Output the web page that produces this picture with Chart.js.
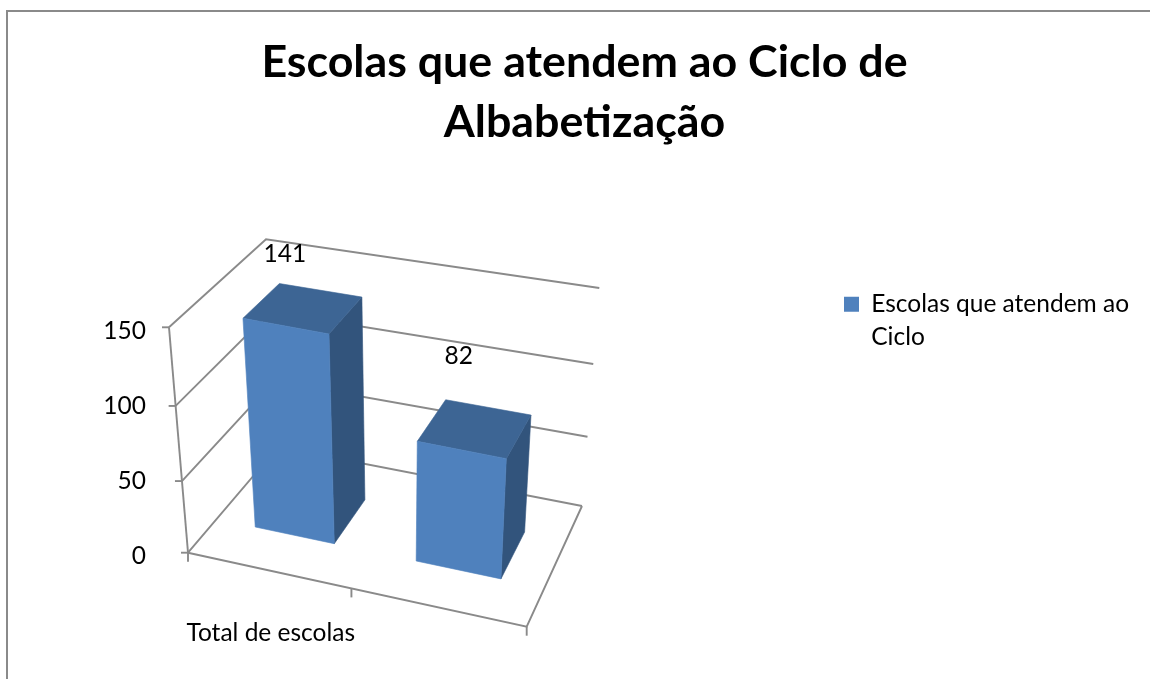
<!DOCTYPE html>
<html>
<head>
<meta charset="utf-8">
<style>html,body{margin:0;padding:0;background:#fff;overflow:hidden}canvas{display:block}</style>
<script src="https://cdn.jsdelivr.net/npm/chart.js@4"></script>
</head>
<body>
<canvas id="c" width="1150" height="679"></canvas>
<script>
const chartTitle = ['Escolas que atendem ao Ciclo de', 'Albabetização'];
const categories = ['Total de escolas', ''];
const seriesName = ['Escolas que atendem ao', 'Ciclo'];
const seriesValues = [141, 82];
const yTicks = [0, 50, 100, 150];

const FONT = 'Lato';
const INK = '#000000';
const LINE = '#8a8a8a';
const FRONT = '#4F81BD', TOP = '#3D6594', SIDE = '#32547C';

// Frame of the 3D box: [bottom, top] corner pairs, front-left, front-right, back-right, back-left.
const frame = {
  fl: [[188, 552.7], [169, 327.3]],
  fr: [[526.7, 626.7], [539.5, 399.7]],
  br: [[582, 506], [599.3, 288]],
  bl: [[278, 447], [266, 239.3]]
};
const DEPTH_FRONT = 0.32, DEPTH_BACK = 0.715;
const lerp = (a, b, t) => a + (b - a) * t;
const lerp2 = (p, q, t) => [lerp(p[0], q[0], t), lerp(p[1], q[1], t)];
const warpU = u => u - 0.07 * u * (1 - u);
const warpV = v => v - 0.07 * v * (1 - v);
function project(u, v, d) {
  const U = warpU(u), V = warpV(v);
  const fl = lerp2(frame.fl[0], frame.fl[1], V), fr = lerp2(frame.fr[0], frame.fr[1], V);
  const bl = lerp2(frame.bl[0], frame.bl[1], V), br = lerp2(frame.br[0], frame.br[1], V);
  const p = lerp2(lerp2(fl, fr, U), lerp2(bl, br, U), d);
  p[1] -= 18 * d * (1 - d) * (1 - d) * Math.sqrt(V);
  return p;
}
function poly(ctx, pts, fill) {
  ctx.beginPath();
  pts.forEach((p, i) => i ? ctx.lineTo(p[0], p[1]) : ctx.moveTo(p[0], p[1]));
  ctx.closePath();
  ctx.fillStyle = fill;
  ctx.strokeStyle = fill;
  ctx.lineWidth = 0.6;
  ctx.fill();
  ctx.stroke();
}
function seg(ctx, pts) {
  ctx.beginPath();
  pts.forEach((p, i) => i ? ctx.lineTo(p[0], p[1]) : ctx.moveTo(p[0], p[1]));
  ctx.stroke();
}
const labelShift = [[-18, -54], [-16, -72]];

const box3d = {
  id: 'box3d',
  afterLayout(chart) {
    chart.titleBlock.left = 0;
    chart.titleBlock.right = 1169;
    const lg = chart.legend;
    lg.left = 837; lg.right = 1150;
    lg.top = 285; lg.bottom = 380;
  },
  beforeDraw(chart) {
    const ctx = chart.ctx;
    ctx.save();
    ctx.fillStyle = '#fff';
    ctx.fillRect(0, 0, chart.width, chart.height);
    ctx.strokeStyle = LINE;
    ctx.lineWidth = 2;
    seg(ctx, [[7, chart.height], [7, 11], [chart.width, 11]]);
    ctx.restore();
  },
  beforeDatasetsDraw(chart) {
    const ctx = chart.ctx, y = chart.scales.y;
    ctx.save();
    ctx.strokeStyle = LINE;
    ctx.lineWidth = 1.9;
    const vOf = val => (y.bottom - y.getPixelForValue(val)) / (y.bottom - y.top);
    // floor
    seg(ctx, [project(0, 0, 0), project(1, 0, 0), project(1, 0, 1)]);
    // left axis
    seg(ctx, [project(0, 0, 0), project(0, 1, 0)]);
    y.ticks.forEach(t => {
      const v = vOf(t.value);
      const a = project(0, v, 0), b = project(0, v, 1), c = project(1, v, 1);
      seg(ctx, [a, b, c]);
      seg(ctx, [[a[0] - 7, a[1]], a]);
    });
    // category ticks along the front edge
    for (let i = 0; i <= categories.length; i++) {
      const p = project(i / categories.length, 0, 0);
      seg(ctx, [p, [p[0], p[1] + 9]]);
    }
    ctx.restore();
  },
  beforeDatasetDraw(chart, args) {
    const ctx = chart.ctx, y = chart.scales.y, x = chart.scales.x;
    ctx.save();
    args.meta.data.forEach((el) => {
      const u0 = (el.x - el.width / 2 - x.left) / x.width;
      const u1 = (el.x + el.width / 2 - x.left) / x.width;
      const v = (y.bottom - el.y) / (y.bottom - y.top);
      const d0 = DEPTH_FRONT, d1 = DEPTH_BACK;
      const P = project;
      poly(ctx, [P(u1, 0, d0), P(u1, 0, d1), P(u1, v, d1), P(u1, v, d0)], SIDE);
      poly(ctx, [P(u0, v, d0), P(u1, v, d0), P(u1, v, d1), P(u0, v, d1)], TOP);
      poly(ctx, [P(u0, 0, d0), P(u1, 0, d0), P(u1, v, d0), P(u0, v, d0)], FRONT);
    });
    ctx.restore();
    return false;
  },
  afterDatasetsDraw(chart) {
    const ctx = chart.ctx, y = chart.scales.y, x = chart.scales.x;
    const meta = chart.getDatasetMeta(0);
    ctx.save();
    ctx.fillStyle = INK;
    ctx.font = '24.5px ' + FONT;
    ctx.textAlign = 'center';
    ctx.textBaseline = 'middle';
    meta.data.forEach((el, i) => {
      const u = (el.x - x.left) / x.width;
      const v = (y.bottom - el.y) / (y.bottom - y.top);
      const p = project(u, v, (DEPTH_FRONT + DEPTH_BACK) / 2);
      ctx.fillText(String(seriesValues[i]), p[0] + labelShift[i][0], p[1] + labelShift[i][1]);
    });
    ctx.restore();
  }
};

new Chart(document.getElementById('c'), {
  type: 'bar',
  plugins: [box3d],
  data: {
    labels: categories,
    datasets: [{ label: seriesName.join(' '), data: seriesValues, backgroundColor: FRONT,
      categoryPercentage: 1, barPercentage: 0.5 }]
  },
  options: {
    responsive: false,
    animation: false,
    layout: { padding: { left: 0, right: 386, top: 0, bottom: 0 } },
    plugins: {
      tooltip: { enabled: false },
      title: {
        display: true, text: chartTitle, color: INK,
        font: { family: FONT, size: 44.75, weight: 'bold', lineHeight: 60 / 44.75 },
        padding: { top: 33, bottom: 178 }
      },
      legend: {
        display: true, position: 'right', align: 'start',
        labels: {
          color: INK, boxWidth: 15, boxHeight: 15, padding: 7,
          font: { family: FONT, size: 24.5, lineHeight: 33 / 24.5 },
          generateLabels: () => [{ text: seriesName, fillStyle: FRONT, strokeStyle: FRONT, lineWidth: 0, datasetIndex: 0, fontColor: INK }]
        }
      }
    },
    scales: {
      x: {
        grid: { display: false }, border: { display: false },
        afterFit: s => { s.height = 123; },
        ticks: { color: INK, padding: 54, autoSkip: false, maxRotation: 0, font: { family: FONT, size: 24.5 } }
      },
      y: {
        min: 0, max: 150,
        grid: { display: false }, border: { display: false },
        afterFit: s => { s.width = 170; },
        afterBuildTicks: s => { s.ticks = yTicks.map(value => ({ value })); },
        ticks: { color: INK, padding: 16, font: { family: FONT, size: 24.5 } }
      }
    }
  }
});
</script>
</body>
</html>
